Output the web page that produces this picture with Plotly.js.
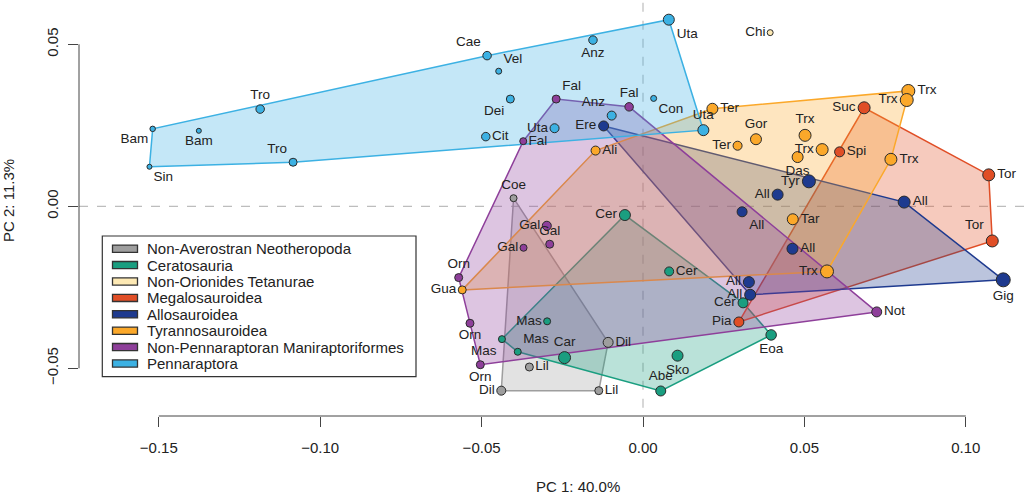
<!DOCTYPE html>
<html>
<head>
<meta charset="utf-8">
<script src="https://cdn.plot.ly/plotly-3.0.1.min.js"></script>
<style>html,body{margin:0;padding:0;background:#fff;}#chart{width:1024px;height:496px;}</style>
</head>
<body>
<div id="chart"></div>
<script>
// ---------- DATA ----------
const clades = ["Non-Averostran Neotheropoda","Ceratosauria","Non-Orionides Tetanurae","Megalosauroidea",
  "Allosauroidea","Tyrannosauroidea","Non-Pennaraptoran Maniraptoriformes","Pennaraptora"];

const taxa = [
  // Non-Averostran Neotheropoda (0)
  "Coe","Dil","Dil","Lil","Lil",
  // Ceratosauria (1)
  "Cer","Cer","Cer","Eoa","Abe","Sko","Car","Mas","Mas","Mas",
  // Non-Orionides Tetanurae (2)
  "Chi",
  // Megalosauroidea (3)
  "Suc","Spi","Tor","Tor","Pia",
  // Allosauroidea (4)
  "Ere","Tyr","All","All","All","All","All","All","Gig",
  // Tyrannosauroidea (5)
  "Gua","Ali","Ter","Ter","Gor","Trx","Trx","Das","Trx","Trx","Trx","Tar","Trx",
  // Non-Pennaraptoran Maniraptoriformes (6)
  "Fal","Fal","Fal","Gal","Gal","Gal","Orn","Orn","Orn","Not",
  // Pennaraptora (7)
  "Sin","Bam","Bam","Tro","Tro","Cae","Vel","Anz","Uta","Dei","Con","Anz","Uta","Cit","Uta"
];
const clade = [
  0,0,0,0,0,
  1,1,1,1,1,1,1,1,1,1,
  2,
  3,3,3,3,3,
  4,4,4,4,4,4,4,4,4,
  5,5,5,5,5,5,5,5,5,5,5,5,5,
  6,6,6,6,6,6,6,6,6,6,
  7,7,7,7,7,7,7,7,7,7,7,7,7,7,7
];
const pc1 = [
  -0.0401,-0.0108,-0.0439,-0.0137,-0.0352,
  -0.0056,0.0081,0.0310,0.0397,0.0055,0.0107,-0.0243,-0.0297,-0.0437,-0.0388,
  0.0394,
  0.0685,0.0609,0.1071,0.1082,0.0297,
  -0.0122,0.0514,0.0417,0.0809,0.0307,0.0463,0.0328,0.0332,0.1116,
  -0.0560,-0.0147,0.0215,0.0293,0.0350,0.0502,0.0555,0.0479,0.0768,0.0822,0.0817,0.0464,0.0570,
  -0.0269,-0.0043,-0.0371,-0.0298,-0.0289,-0.0370,-0.0571,-0.0536,-0.0504,0.0724,
  -0.1529,-0.1519,-0.1376,-0.1186,-0.1084,-0.0483,-0.0447,-0.0155,0.0080,-0.0411,0.0033,-0.0097,-0.0274,-0.0487,0.0187
];
const pc2 = [
  0.0025,-0.0420,-0.0569,-0.0569,-0.0496,
  -0.0027,-0.0201,-0.0298,-0.0397,-0.0570,-0.0461,-0.0467,-0.0355,-0.0410,-0.0449,
  0.0536,
  0.0304,0.0168,0.0097,-0.0107,-0.0357,
  0.0248,0.0077,0.0036,0.0013,-0.0017,-0.0131,-0.0234,-0.0273,-0.0227,
  -0.0258,0.0172,0.0301,0.0187,0.0207,0.0219,0.0175,0.0152,0.0145,0.0356,0.0328,-0.0040,-0.0201,
  0.0331,0.0307,0.0201,-0.0060,-0.0117,-0.0128,-0.0220,-0.0361,-0.0489,-0.0326,
  0.0122,0.0239,0.0233,0.0300,0.0136,0.0465,0.0417,0.0513,0.0576,0.0331,0.0333,0.0280,0.0241,0.0215,0.0235
];
// relative body size (drawn as marker diameter)
const csize = [
  7,10,9,8,8,
  11,9,10,10.5,10,11,12,7,7,7,
  6,
  12,10,12,12,10,
  10,13,11,12,10,11,11,11,14,
  8,9,11,9,11,12,12,11,12,13,13,11,13,
  8,8.5,7,9,8,7,8,8,8,10,
  5,5.5,5,8.5,8,8.5,6,8.5,11,8,6,9,9,8.5,11
];
const xTicks = [-0.15,-0.10,-0.05,0.00,0.05,0.10];
const yTicks = [-0.05,0.00,0.05];
const xTitle = "PC 1: 40.0%";
const yTitle = "PC 2: 11.3%";

// ---------- STYLE ----------
const colors = ["#9e9e9e","#1a9e80","#fde9b4","#e04e26","#1e3a8f","#fba82a","#8e3f9a","#3cb1e3"];
const labelPos = [
  "top center","middle right","middle left","middle right","middle right",
  "middle left","middle right","middle left","bottom center","top center","bottom center","top center","middle left","bottom left","top right",
  "middle left",
  "middle left","middle right","middle right","top left","middle left",
  "middle left","middle left","middle left","middle right","bottom right","middle right","middle left","middle left","bottom center",
  "middle left","middle right","middle right","middle left","top center","top center","middle left","bottom center","middle right","middle right","middle left","middle right","middle left",
  "top right","top center","middle right","middle left","top center","middle left","top center","bottom center","bottom center","middle right",
  "bottom right","bottom left","bottom center","top center","top left","top left","top right","bottom center","bottom right","bottom left","bottom right","top left","middle left","middle right","top center"
];
const FONT = "Liberation Sans, Arial, Helvetica, sans-serif";

function hexToRgba(h,a){const n=parseInt(h.slice(1),16);return `rgba(${n>>16&255},${n>>8&255},${n&255},${a})`;}
function hull(pts){
  pts=pts.slice().sort((a,b)=>a[0]-b[0]||a[1]-b[1]);
  const cross=(o,a,b)=>(a[0]-o[0])*(b[1]-o[1])-(a[1]-o[1])*(b[0]-o[0]);
  const lo=[],up=[];
  for(const p of pts){while(lo.length>=2&&cross(lo[lo.length-2],lo[lo.length-1],p)<=0)lo.pop();lo.push(p);}
  for(let i=pts.length-1;i>=0;i--){const p=pts[i];while(up.length>=2&&cross(up[up.length-2],up[up.length-1],p)<=0)up.pop();up.push(p);}
  up.pop();lo.pop();return lo.concat(up);
}

const traces=[];
clades.forEach((c,g)=>{
  const idx=taxa.map((_,i)=>i).filter(i=>clade[i]===g);
  if(idx.length>=3){
    const h=hull(idx.map(i=>[pc1[i],pc2[i]]));
    h.push(h[0]);
    traces.push({type:"scatter",mode:"lines",x:h.map(p=>p[0]),y:h.map(p=>p[1]),fill:"toself",
      fillcolor:hexToRgba(colors[g],0.3),line:{color:colors[g],width:1.5},hoverinfo:"skip",showlegend:false});
  }
});
clades.forEach((c,g)=>{
  const idx=taxa.map((_,i)=>i).filter(i=>clade[i]===g);
  traces.push({type:"scatter",mode:"markers+text",name:c,
    x:idx.map(i=>pc1[i]),y:idx.map(i=>pc2[i]),text:idx.map(i=>taxa[i]),
    textposition:idx.map(i=>labelPos[i]),
    textfont:{family:FONT,size:13.5,color:"#222"},
    marker:{size:idx.map(i=>csize[i]),color:colors[g],opacity:1,line:{color:"#2a2a2a",width:1}},
    cliponaxis:false,showlegend:false});
});

// pixel helpers for plot frame
const L=79,R=1024,T=0,B=416;
const pxX=p=>(p-L)/(R-L), pxY=p=>(B-p)/(B-T);

const shapes=[
  {type:"line",xref:"x",yref:"paper",x0:0,x1:0,y0:0.02,y1:1,line:{color:"#bdbdbd",width:1.2,dash:"dash"},layer:"below"},
  {type:"line",xref:"paper",yref:"y",x0:0,x1:1,y0:0,y1:0,line:{color:"#bdbdbd",width:1.2,dash:"dash"},layer:"below"},
  {type:"line",xref:"x",yref:"paper",x0:xTicks[0],x1:xTicks[xTicks.length-1],y0:0,y1:0,line:{color:"#444",width:1}},
  {type:"line",xref:"paper",yref:"y",x0:0,x1:0,y0:yTicks[0],y1:yTicks[yTicks.length-1],line:{color:"#444",width:1}},
  {type:"rect",xref:"paper",yref:"paper",x0:pxX(102.3),x1:pxX(416),y0:pxY(376.7),y1:pxY(236),line:{color:"#333",width:1.2},fillcolor:"#ffffff"}
];
const annotations=[];
clades.forEach((c,g)=>{
  const cy=248.7+g*16.4;
  shapes.push({type:"rect",xref:"paper",yref:"paper",x0:pxX(112.5),x1:pxX(137.5),y0:pxY(cy+3.6),y1:pxY(cy-3.6),
    line:{color:"#333",width:1.3},fillcolor:colors[g]});
  annotations.push({xref:"paper",yref:"paper",x:pxX(145),y:pxY(cy),text:c,showarrow:false,xanchor:"left",yanchor:"middle",
    font:{family:FONT,size:15,color:"#222"}});
});
annotations.push({xref:"paper",yref:"paper",x:pxX(578),y:pxY(486),text:xTitle,showarrow:false,xanchor:"center",yanchor:"middle",
  font:{family:FONT,size:15,color:"#222"}});
annotations.push({xref:"paper",yref:"paper",x:pxX(9),y:pxY(201),text:yTitle,showarrow:false,textangle:-90,xanchor:"center",yanchor:"middle",
  font:{family:FONT,size:15,color:"#222"}});

const layout={
  width:1024,height:496,margin:{l:L,r:1024-R,t:T,b:496-B},
  paper_bgcolor:"#fff",plot_bgcolor:"#fff",showlegend:false,
  xaxis:{range:[(L-643)/3228,(R-643)/3228],tickvals:xTicks,tickformat:".2f",ticks:"outside",ticklen:10,tickwidth:1,tickcolor:"#444",
    showgrid:false,zeroline:false,showline:false,automargin:false,tickfont:{family:FONT,size:15,color:"#222"},ticklabelstandoff:8},
  yaxis:{range:[(206.3-B)/3240,(206.3-T)/3240],tickvals:yTicks,tickformat:".2f",ticks:"outside",ticklen:10,tickwidth:1,tickcolor:"#444",
    tickangle:-90,showgrid:false,zeroline:false,showline:false,automargin:false,tickfont:{family:FONT,size:15,color:"#222"},ticklabelstandoff:4},
  shapes:shapes,annotations:annotations
};
Plotly.newPlot("chart",traces,layout,{staticPlot:true,displayModeBar:false});
</script>
</body>
</html>
